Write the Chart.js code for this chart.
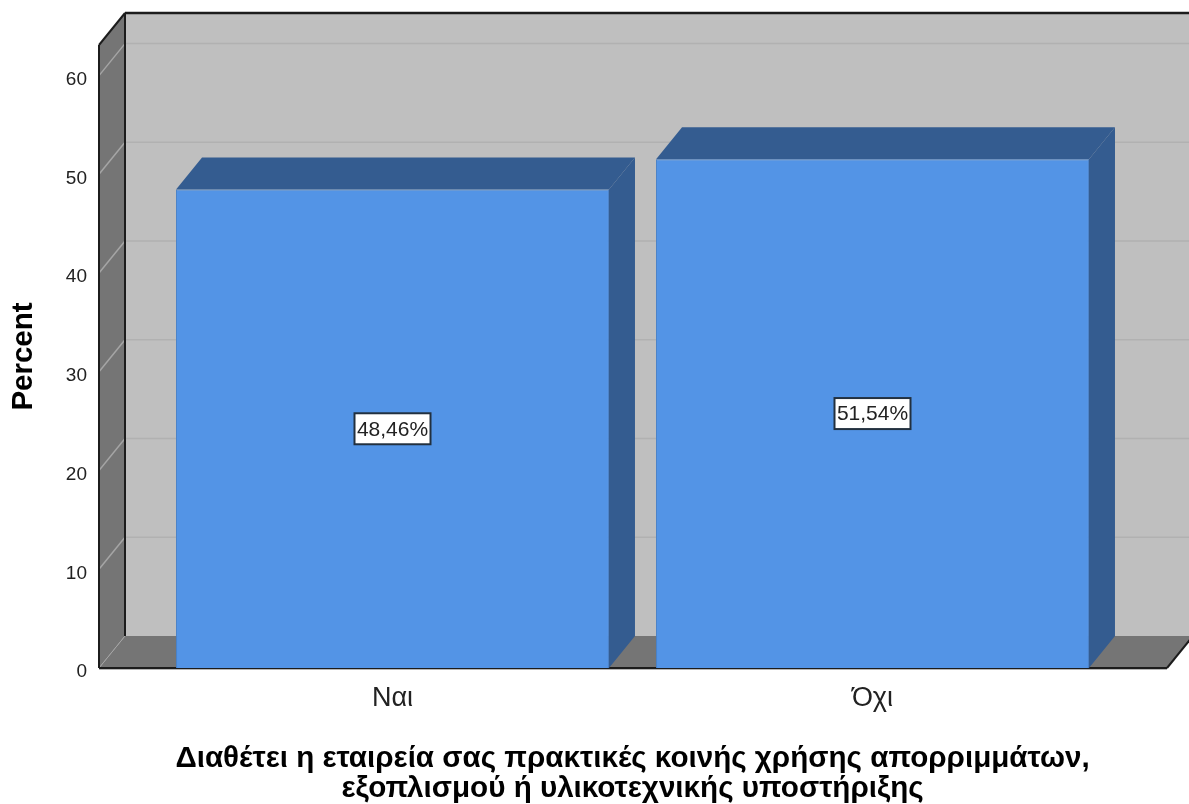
<!DOCTYPE html>
<html lang="el">
<head>
<meta charset="utf-8">
<title>Percent</title>
<script src="https://cdn.jsdelivr.net/npm/chart.js@4/dist/chart.umd.min.js"></script>
<style>
    html, body { margin: 0; padding: 0; background: #fff; }
    canvas { display: block; }
</style>
</head>
<body>
<canvas id="chart" width="1189" height="804"></canvas>
<script>
// Data
const categories = ['Ναι', 'Όχι'];
const percentValues = [48.46, 51.54];
const percentLabels = ['48,46%', '51,54%'];
const axisTop = 63.1;
const axisStep = 10;
const yTitle = 'Percent';
const xTitle = [
    'Διαθέτει η εταιρεία σας πρακτικές κοινής χρήσης απορριμμάτων,',
    'εξοπλισμού ή υλικοτεχνικής υποστήριξης'
];

// 3D look
const depthX = 26;
const depthY = 32;
const wallLeft = 53.5;
const wallRight = 54.5;
const wallColor = '#bfbfbf';
const sideWallColor = '#757575';
const barColor = '#5394e6';
const barEdgeColor = '#4a82c8';
const barDarkColor = '#345c90';
const edgeColor = '#1c1c1c';

function poly(ctx, points, fill) {
    ctx.beginPath();
    ctx.moveTo(points[0][0], points[0][1]);
    for (let i = 1; i < points.length; i++) {
        ctx.lineTo(points[i][0], points[i][1]);
    }
    ctx.closePath();
    ctx.fillStyle = fill;
    ctx.fill();
}

function line(ctx, x1, y1, x2, y2, color, width) {
    ctx.beginPath();
    ctx.moveTo(x1, y1);
    ctx.lineTo(x2, y2);
    ctx.strokeStyle = color;
    ctx.lineWidth = width;
    ctx.stroke();
}

const box3d = {
    id: 'box3d',
    beforeDatasetsDraw(chart) {
        const ctx = chart.ctx;
        const area = chart.chartArea;
        const left = area.left - wallLeft;
        const right = area.right + wallRight;
        const top = area.top;
        const bottom = area.bottom;
        const yScale = chart.scales.y;

        ctx.save();
        // back wall, left wall, floor
        poly(ctx, [[left + depthX, top - depthY], [right + depthX, top - depthY], [right + depthX, bottom - depthY], [left + depthX, bottom - depthY]], wallColor);
        poly(ctx, [[left, top], [left + depthX, top - depthY], [left + depthX, bottom - depthY], [left, bottom]], sideWallColor);
        poly(ctx, [[left, bottom], [left + depthX, bottom - depthY], [right + depthX, bottom - depthY], [right, bottom]], sideWallColor);

        // gridlines
        yScale.ticks.forEach(function (tick) {
            const y = yScale.getPixelForValue(tick.value);
            if (tick.value === 0) {
                line(ctx, left, y, left + depthX, y - depthY, '#a5a5a5', 1);
                return;
            }
            line(ctx, left, y, left + depthX, y - depthY, '#a5a5a5', 1.5);
            line(ctx, left + depthX, y - depthY, right + depthX, y - depthY, '#b1b1b1', 1.5);
        });

        // frame
        line(ctx, left + depthX, top - depthY, right + depthX, top - depthY, edgeColor, 2.5);
        line(ctx, left, top, left + depthX, top - depthY, edgeColor, 2);
        line(ctx, left, top, left, bottom, edgeColor, 2);
        line(ctx, left + depthX, top - depthY, left + depthX, bottom - depthY, edgeColor, 2);
        line(ctx, left, bottom, right, bottom, edgeColor, 2);
        line(ctx, right, bottom, right + depthX, bottom - depthY, edgeColor, 2);
        line(ctx, left, bottom + 1.5, right, bottom + 1.5, '#b5b5b5', 1);

        // top and side faces of the bars
        chart.getDatasetMeta(0).data.forEach(function (bar) {
            const x1 = bar.x - bar.width / 2;
            const x2 = bar.x + bar.width / 2;
            poly(ctx, [[x1, bar.y], [x1 + depthX, bar.y - depthY], [x2 + depthX, bar.y - depthY], [x2, bar.y]], barDarkColor);
            poly(ctx, [[x2, bar.y], [x2 + depthX, bar.y - depthY], [x2 + depthX, bar.base - depthY], [x2, bar.base]], barDarkColor);
        });
        ctx.restore();
    },
    afterDatasetsDraw(chart) {
        const ctx = chart.ctx;
        ctx.save();
        ctx.font = '21px "Liberation Sans", Arial, sans-serif';
        ctx.textAlign = 'center';
        ctx.textBaseline = 'middle';
        chart.getDatasetMeta(0).data.forEach(function (bar, i) {
            const y = (bar.y + bar.base) / 2;
            ctx.fillStyle = '#ffffff';
            ctx.fillRect(bar.x - 38, y - 15.5, 76, 31);
            ctx.strokeStyle = '#22303f';
            ctx.lineWidth = 2;
            ctx.strokeRect(bar.x - 38, y - 15.5, 76, 31);
            ctx.fillStyle = '#222222';
            ctx.fillText(percentLabels[i], bar.x, y + 1);
        });
        ctx.restore();
    }
};

const ctx = document.getElementById('chart').getContext('2d');
const chart = new Chart(ctx, {
    type: 'bar',
    data: {
        labels: categories,
        datasets: [{
            label: yTitle,
            data: percentValues,
            backgroundColor: barColor,
            borderColor: barEdgeColor,
            borderWidth: 1,
            barPercentage: 0.902,
            categoryPercentage: 1
        }]
    },
    options: {
        responsive: false,
        animation: false,
        layout: { padding: { top: 45, left: 0, right: 76.5, bottom: 0 } },
        plugins: {
            legend: { display: false },
            tooltip: { enabled: false },
            title: { display: false }
        },
        scales: {
            x: {
                afterFit(scale) { scale.height = 136; },
                grid: { display: false, drawTicks: false },
                border: { display: false },
                ticks: {
                    padding: 14,
                    color: '#222222',
                    maxRotation: 0,
                    font: { family: '"Liberation Sans", Arial, sans-serif', size: 27 }
                },
                title: {
                    display: true,
                    text: xTitle,
                    color: '#000000',
                    font: { family: '"Liberation Sans", Arial, sans-serif', size: 29.6, weight: 'bold', lineHeight: 1.02 },
                    padding: { top: 0, bottom: 0 }
                }
            },
            y: {
                min: 0,
                max: axisTop,
                // the big tick padding must not push the plot area down
                afterFit(scale) {
                    scale.width = 152.5;
                    scale.paddingTop = 0;
                    scale.paddingBottom = 0;
                },
                grid: { display: false, drawTicks: false },
                border: { display: false },
                ticks: {
                    stepSize: axisStep,
                    includeBounds: false,
                    padding: 65.5,
                    labelOffset: 4,
                    color: '#222222',
                    font: { family: '"Liberation Sans", Arial, sans-serif', size: 19 }
                },
                title: {
                    display: true,
                    text: yTitle,
                    color: '#000000',
                    font: { family: '"Liberation Sans", Arial, sans-serif', size: 29.5, weight: 'bold' },
                    padding: { top: 6, bottom: 0 }
                }
            }
        }
    },
    plugins: [box3d]
});
</script>
</body>
</html>
